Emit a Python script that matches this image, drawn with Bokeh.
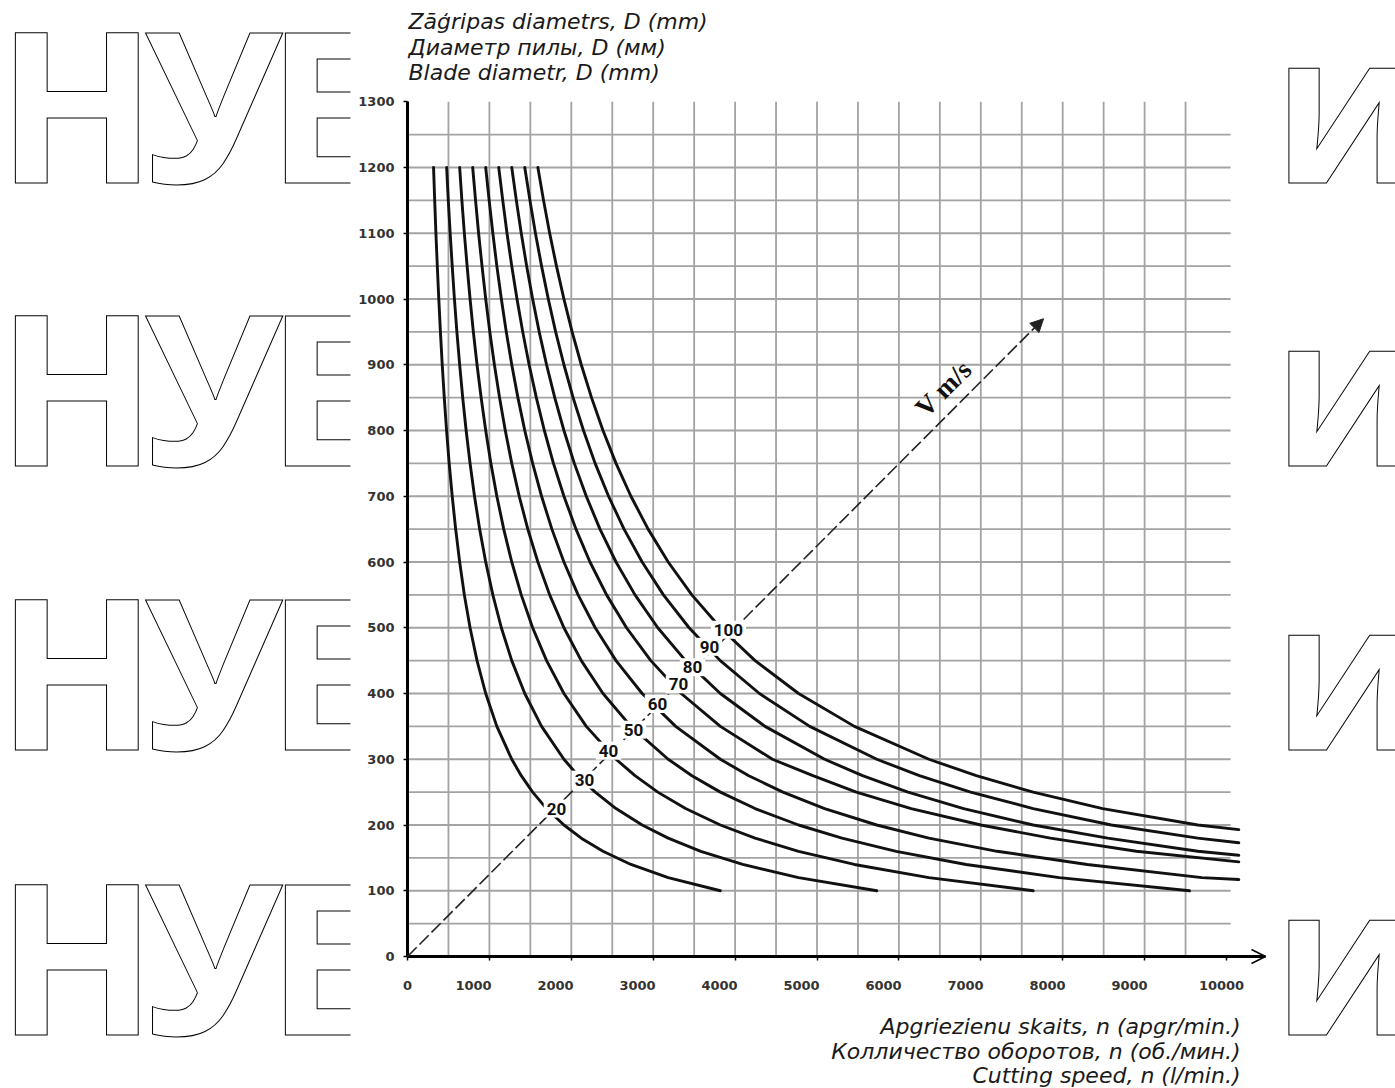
import numpy as np
from bokeh.plotting import figure
from bokeh.models import Range1d, LinearAxis, FixedTicker, Label, Arrow, NormalHead, OpenHead
from bokeh.embed import file_html
from bokeh.resources import INLINE
from bokeh.core.properties import value

# ---------------- data ----------------
speed_labels = ["20", "30", "40", "50", "60", "70", "80", "90", "100"]

# diameters at which the curves were read
d_full = [1200, 1150, 1100, 1050, 1000, 950, 900, 850, 800, 750, 700, 650, 600, 550, 500, 450, 400,
          350, 300, 275, 250, 225, 200, 180, 160, 140, 120, 100]

n_v20 = [318, 332, 347, 364, 382, 402, 424, 449, 477, 509, 546, 588, 637, 694, 764, 849, 955,
         1091, 1273, 1389, 1528, 1698, 1910, 2122, 2387, 2728, 3183, 3820]
d_v20 = d_full

n_v30 = [478, 498, 521, 546, 573, 603, 637, 674, 716, 764, 818, 881, 955, 1042, 1146, 1273, 1432,
         1637, 1910, 2083, 2292, 2546, 2865, 3183, 3581, 4093, 4775, 5730]
d_v30 = d_full

n_v40 = [637, 664, 694, 728, 764, 804, 849, 899, 955, 1018, 1091, 1175, 1273, 1389, 1528, 1698, 1910,
         2183, 2546, 2778, 3056, 3395, 3820, 4244, 4775, 5457, 6366, 7640]
d_v40 = d_full

n_v50 = [796, 831, 868, 910, 955, 1005, 1061, 1124, 1194, 1273, 1364, 1469, 1592, 1736, 1910, 2122, 2387,
         2728, 3183, 3473, 3820, 4244, 4775, 5305, 5968, 6821, 7958, 9549]
d_v50 = d_full

n_v60 = [955, 997, 1042, 1091, 1146, 1206, 1273, 1348, 1432, 1528, 1637, 1763, 1910, 2083, 2292, 2546, 2865,
         3274, 3820, 4167, 4584, 5093, 5729, 6366, 7200, 8300, 9700, 10150]
d_v60 = d_full[:27] + [117]

n_v70 = [1114, 1163, 1215, 1273, 1337, 1407, 1485, 1573, 1671, 1782, 1910, 2057, 2228, 2431, 2674, 2971, 3342,
         3820, 4456, 4950, 5480, 6150, 7000, 7850, 8900, 10150]
d_v70 = d_full[:25] + [144]

n_v80 = [1273, 1329, 1389, 1455, 1528, 1608, 1698, 1798, 1910, 2037, 2183, 2350, 2546, 2778, 3056, 3395, 3820,
         4365, 5093, 5556, 6111, 6790, 7639, 8550, 9650, 10150]
d_v80 = d_full[:25] + [154]

n_v90 = [1432, 1495, 1562, 1637, 1719, 1809, 1910, 2022, 2149, 2291, 2455, 2644, 2865, 3125, 3438, 3819, 4297,
         4911, 5730, 6250, 6875, 7639, 8594, 9650, 10150]
d_v90 = d_full[:24] + [173]

n_v100 = [1592, 1661, 1736, 1819, 1910, 2010, 2122, 2247, 2387, 2546, 2728, 2938, 3183, 3472, 3820, 4244, 4775,
          5457, 6366, 6945, 7639, 8488, 9650, 10150]
d_v100 = d_full[:23] + [193]

curves_n = [n_v20, n_v30, n_v40, n_v50, n_v60, n_v70, n_v80, n_v90, n_v100]
curves_d = [d_v20, d_v30, d_v40, d_v50, d_v60, d_v70, d_v80, d_v90, d_v100]

# curve labels sit on the diagonal V line
label_n = [1819, 2161, 2454, 2759, 3052, 3309, 3480, 3687, 3919]
label_d = [225, 269, 313, 345, 384, 414, 440, 471, 497]

v_arrow_end = (7766, 970)

x_tick_values = [0, 1000, 2000, 3000, 4000, 5000, 6000, 7000, 8000, 9000, 10000]
x_tick_labels = ["0", "1000", "2000", "3000", "4000", "5000", "6000", "7000", "8000", "9000", "10000"]
# printed label centres (the labels are printed left of their ticks)
x_label_pos = [0, 806, 1807, 2808, 3810, 4811, 5812, 6813, 7814, 8816, 9939]
y_tick_values = [0, 100, 200, 300, 400, 500, 600, 700, 800, 900, 1000, 1100, 1200, 1300]

y_title = ["Zāģripas diametrs, D (mm)", "Диаметр пилы, D (мм)", "Blade diametr, D (mm)"]
x_title = ["Apgriezienu skaits, n (apgr/min.)", "Колличество оборотов, n (об./мин.)", "Cutting speed, n (l/min.)"]

wm_letters = ["Н", "У", "Е"]
wm_right = "и"

# ---------------- page geometry (pixels) ----------------
W, H = 1395, 1088
PX0, PY0 = 407.0, 956.0          # pixel of (0, 0)
KX, KY = 0.0819, 0.6575          # pixels per unit


def sx(px):
    return (px - PX0) / KX


def sy(py):
    return (PY0 - py) / KY


p = figure(width=W, height=H,
           x_range=Range1d(sx(0), sx(W)), y_range=Range1d(sy(H), sy(0)),
           output_backend="svg", toolbar_location=None,
           x_axis_type=None, y_axis_type=None,
           min_border=0, min_border_left=0, min_border_right=0, min_border_top=0, min_border_bottom=0,
           background_fill_color="white", border_fill_color="white", outline_line_color=None)
p.grid.visible = False

# ---------------- watermark ----------------
baselines = [101, 384, 668, 953]
letter_px = [-4, 143, 266]
for lt, lx in zip(wm_letters, letter_px):
    p.text(x=[sx(lx)] * 4, y=[sy(b) for b in baselines], text=[lt] * 4, text_font=value("Open Sans"),
           text_font_style="bold", text_font_size="210px", text_color="white",
           text_outline_color="black", text_baseline="alphabetic", text_align="left")
p.text(x=[sx(1272)] * 4, y=[sy(b) for b in baselines], text=[wm_right] * 4, text_font=value("Open Sans"),
       text_font_style="bold", text_font_size="210px", text_color="white",
       text_outline_color="black", text_baseline="alphabetic", text_align="left")
# white sheet of the chart covering the watermark
p.quad(left=[sx(350)], right=[sx(1283)], bottom=[sy(H + 10)], top=[sy(-10)],
       fill_color="white", line_color=None)

# ---------------- grid ----------------
grid_col = "#a3a3a3"
vx = list(range(500, 10000, 500))
p.segment(x0=vx, y0=[0] * len(vx), x1=vx, y1=[1300] * len(vx), line_color=grid_col, line_width=1.8)
hy = list(range(50, 1300, 50))
p.segment(x0=[0] * len(hy), y0=hy, x1=[10050] * len(hy), y1=hy, line_color=grid_col, line_width=1.8)

# ---------------- curves ----------------
for ns, ds in zip(curves_n, curves_d):
    p.line(ns, ds, line_color="#111111", line_width=2.9, line_cap="round", line_join="round")

# ---------------- axes ----------------
yax = LinearAxis(fixed_location=0, bounds=(0, 1300), ticker=FixedTicker(ticks=y_tick_values),
                 axis_line_width=3, axis_line_color="black",
                 major_tick_out=4, major_tick_in=0, minor_tick_out=0, minor_tick_in=0,
                 major_tick_line_width=1.5, major_label_standoff=9,
                 major_label_text_font="DejaVu Sans", major_label_text_font_style="bold",
                 major_label_text_font_size="13px", major_label_text_color="#333333")
p.add_layout(yax, "left")

X_END = sx(1265)
xax = LinearAxis(fixed_location=0, bounds=(0, X_END), ticker=FixedTicker(ticks=x_tick_values),
                 axis_line_width=3, axis_line_color="black",
                 major_tick_out=4, major_tick_in=0, minor_tick_out=0, minor_tick_in=0,
                 major_tick_line_width=1.5, major_label_text_font_size="1px", major_label_text_alpha=0)
p.add_layout(xax, "below")

xlab = LinearAxis(fixed_location=0, ticker=FixedTicker(ticks=x_label_pos),
                  major_label_overrides={pos: lab for pos, lab in zip(x_label_pos, x_tick_labels)},
                  axis_line_color=None, major_tick_line_color=None, minor_tick_line_color=None,
                  major_tick_out=0, major_tick_in=0,
                  major_label_standoff=24, major_label_text_font="DejaVu Sans",
                  major_label_text_font_style="bold", major_label_text_font_size="13px",
                  major_label_text_color="#333333")
p.add_layout(xlab, "below")

# x-axis arrow
p.add_layout(Arrow(x_start=10150, y_start=0, x_end=X_END, y_end=0, line_color="black", line_width=3,
                   end=OpenHead(size=14, line_color="black", line_width=1.5)))

# diagonal V arrow
p.add_layout(Arrow(x_start=0, y_start=0, x_end=v_arrow_end[0], y_end=v_arrow_end[1],
                   line_color="#222222", line_width=1.6, line_dash="13 4",
                   end=NormalHead(size=13, fill_color="#222222", line_color="#222222")))

# curve labels
for t, xn, yd in zip(speed_labels, label_n, label_d):
    p.add_layout(Label(x=xn, y=yd, text=t, text_align="center", text_baseline="middle",
                       text_font="Roboto", text_font_style="bold", text_font_size="17px",
                       text_color="#111111", background_fill_color="white", padding=3))

p.add_layout(Label(x=sx(943), y=sy(388), text="V m/s", angle=np.pi / 4, text_align="center",
                   text_baseline="middle", text_font="Liberation Serif", text_font_style="bold",
                   text_font_size="27px", text_color="#111111"))

# axis titles
p.text(x=[sx(408)] * 3, y=[sy(21), sy(47), sy(72)], text=y_title, text_align="left",
       text_baseline="middle", text_font=value("DejaVu Sans"), text_font_style="italic",
       text_font_size="22px", text_color="#1a1a1a")
p.text(x=[sx(1240)] * 3, y=[sy(1026), sy(1051), sy(1075)], text=x_title, text_align="right",
       text_baseline="middle", text_font=value("DejaVu Sans"), text_font_style="italic",
       text_font_size="22px", text_color="#1a1a1a")

open("out.html", "w").write(file_html(p, INLINE))
